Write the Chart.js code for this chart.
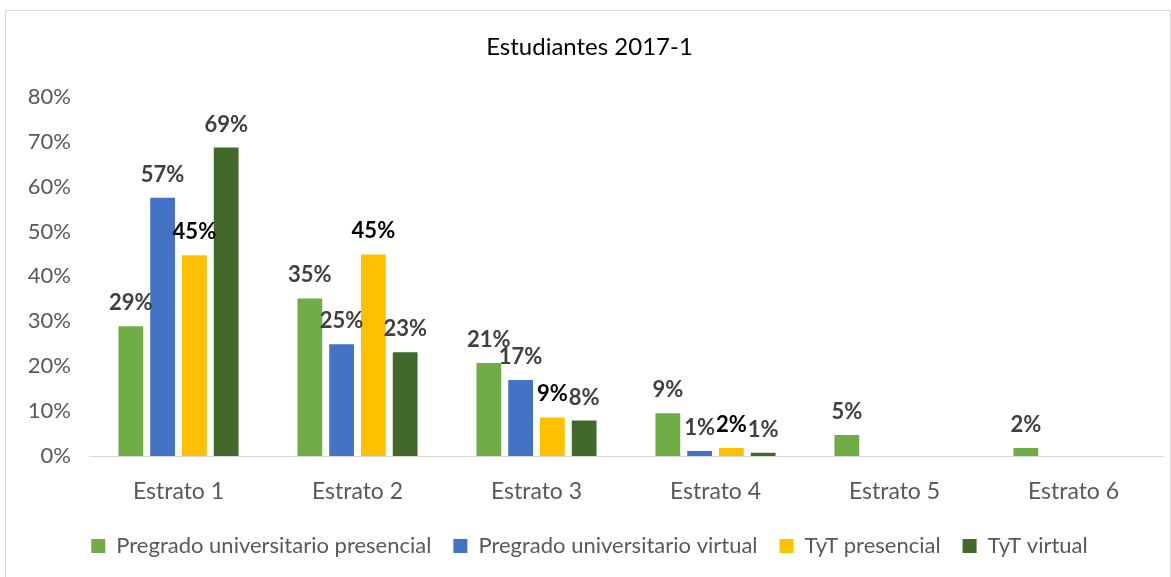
<!DOCTYPE html>
<html>
<head>
<meta charset="utf-8">
<script src="https://cdn.jsdelivr.net/npm/chart.js@4"></script>
<style>
  html, body { margin: 0; padding: 0; background: #fff; }
  #marco {
    position: absolute; left: 5px; top: 10px;
    width: 1164px; height: 566px;
    border: 1px solid #d9d9d9;
  }
</style>
</head>
<body>
<div id="marco"><canvas id="grafico"></canvas></div>
<script>
var categorias = ['Estrato 1', 'Estrato 2', 'Estrato 3', 'Estrato 4', 'Estrato 5', 'Estrato 6'];
var pregradoPresencial = [28.9, 35.1, 20.7, 9.5, 4.7, 1.8];
var pregradoVirtual = [57.5, 24.9, 16.9, 1.1, null, null];
var tytPresencial = [44.7, 44.9, 8.6, 1.8, null, null];
var tytVirtual = [68.7, 23.1, 7.9, 0.7, null, null];
var etiquetasDatos = [
    ['29%', '35%', '21%', '9%', '5%', '2%'],
    ['57%', '25%', '17%', '1%', '', ''],
    ['45%', '45%', '9%', '2%', '', ''],
    ['69%', '23%', '8%', '1%', '', '']
];

var fuente = 'Lato, "Open Sans", sans-serif';

// escribe el valor encima de cada barra
var pluginEtiquetas = {
    id: 'etiquetas',
    afterDatasetsDraw: function (chart) {
        var ctx = chart.ctx;
        ctx.save();
        ctx.font = 'bold 22px ' + fuente;
        ctx.textAlign = 'center';
        ctx.textBaseline = 'bottom';
        chart.data.datasets.forEach(function (ds, i) {
            var meta = chart.getDatasetMeta(i);
            ctx.fillStyle = i === 2 ? '#000000' : '#404040';
            meta.data.forEach(function (barra, j) {
                var texto = etiquetasDatos[i][j];
                if (!texto) return;
                ctx.fillText(texto, barra.x, barra.y - 12);
            });
        });
        ctx.restore();
    }
};

var config = {
    type: 'bar',
    data: {
        labels: categorias,
        datasets: [
            { label: 'Pregrado universitario presencial', data: pregradoPresencial, backgroundColor: '#70ad47' },
            { label: 'Pregrado universitario virtual', data: pregradoVirtual, backgroundColor: '#4472c4' },
            { label: 'TyT presencial', data: tytPresencial, backgroundColor: '#ffc000' },
            { label: 'TyT virtual', data: tytVirtual, backgroundColor: '#43682b' }
        ]
    },
    options: {
        responsive: true,
        maintainAspectRatio: false,
        animation: false,
        events: [],
        categoryPercentage: 0.71,
        barPercentage: 0.78,
        layout: { padding: { left: 10, right: 7, top: 6, bottom: 10 } },
        plugins: {
            title: {
                display: true,
                text: 'Estudiantes 2017-1',
                color: '#000000',
                font: { family: fuente, size: 24, weight: 'normal' },
                padding: { top: 16, bottom: 35 }
            },
            legend: {
                position: 'bottom',
                labels: {
                    color: '#595959',
                    font: { family: fuente, size: 22 },
                    boxWidth: 14,
                    boxHeight: 14,
                    padding: 22
                }
            },
            tooltip: { enabled: false }
        },
        scales: {
            x: {
                grid: { display: false, drawTicks: false },
                border: { color: '#d9d9d9', width: 1 },
                ticks: {
                    color: '#595959',
                    font: { family: fuente, size: 23 },
                    padding: 22
                },
                afterFit: function (escala) { escala.height = 57; }
            },
            y: {
                min: 0,
                max: 80,
                grid: { display: false, drawTicks: false },
                border: { display: false },
                ticks: {
                    stepSize: 10,
                    color: '#595959',
                    font: { family: fuente, size: 22 },
                    padding: 18,
                    callback: function (v) { return v + '%'; }
                },
                afterFit: function (escala) { escala.width = 73; }
            }
        }
    },
    plugins: [pluginEtiquetas]
};

new Chart(document.getElementById('grafico').getContext('2d'), config);
</script>
</body>
</html>
